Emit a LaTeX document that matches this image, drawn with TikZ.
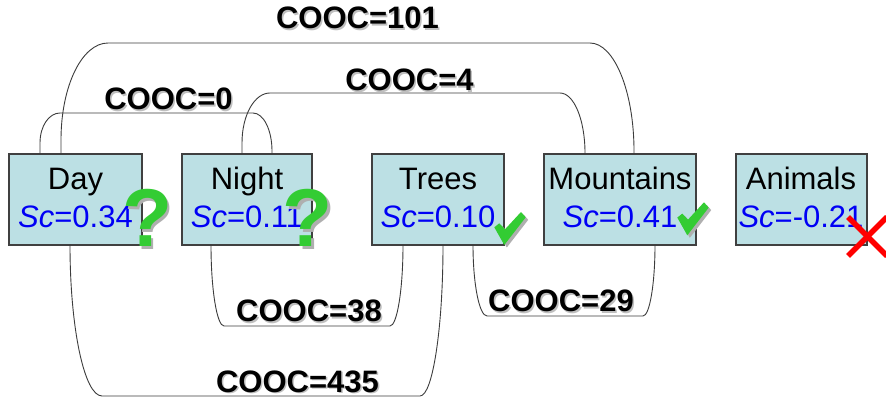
\documentclass[tikz,border=0pt]{standalone}
\usepackage{fontspec}
\setmainfont{Liberation Sans}
\usetikzlibrary{calc}

\definecolor{boxfill}{RGB}{188,224,228}
\definecolor{boxline}{RGB}{64,64,64}
\definecolor{linkgray}{RGB}{60,60,60}
\definecolor{scoreblue}{RGB}{0,0,245}
\definecolor{okgreen}{RGB}{51,204,51}
\definecolor{shadowgray}{RGB}{175,175,175}
\definecolor{badred}{RGB}{255,0,0}

\tikzset{
  concept/.style={draw=boxline, line width=1.3pt, fill=boxfill, inner sep=0pt, outer sep=0pt},
  word/.style={anchor=base, inner sep=0pt, font=\fontsize{31}{36}\selectfont},
  score/.style={word, text=scoreblue},
  link/.style={draw=linkgray, line width=0.9pt},
  cooc/.style={anchor=base, inner sep=0pt, font=\bfseries\fontsize{31}{36}\selectfont},
  coocshadow/.style={cooc, text=shadowgray!80},
  query/.style={anchor=base, inner sep=0pt, font=\bfseries\fontsize{82}{82}\selectfont, text=okgreen},
  queryshadow/.style={query, text=shadowgray},
  tick/.pic={
    \begin{scope}[shift={(2.5,2.5)}]
      \fill[shadowgray] (-10,-17.7) -- (-5,-21.7) -- (0.7,-15.7) -- (16.7,-33) -- (21.4,-27.7) -- (0,0) -- cycle;
    \end{scope}
    \fill[okgreen] (-10,-17.7) -- (-5,-21.7) -- (0.7,-15.7) -- (16.7,-33) -- (21.4,-27.7) -- (0,0) -- cycle;
  }
}

\begin{document}
\begin{tikzpicture}[x=1pt,y=-1pt]
  \fill[white] (0,0) rectangle (886,403);
  \useasboundingbox (0,0) rectangle (886,403);

  % concept boxes
  \node[concept, minimum width=133pt, minimum height=91pt] (day) at (75.5,199.5) {};
  \node[concept, minimum width=130pt, minimum height=91pt] (night) at (247,199.5) {};
  \node[concept, minimum width=132pt, minimum height=91pt] (trees) at (438,199.5) {};
  \node[concept, minimum width=152pt, minimum height=91pt] (mountains) at (620,199.5) {};
  \node[concept, minimum width=131pt, minimum height=91pt] (animals) at (801.5,199.5) {};

  % names and scores
  \node[word] (day-t) at (75.5,190) {Day};
  \node[score] (day-s) at (75.5,228) {\textit{Sc}=0.34};
  \node[word] (night-t) at (247,190) {Night};
  \node[score] (night-s) at (247,228) {\textit{Sc}=0.11};
  \node[word] (trees-t) at (438,190) {Trees};
  \node[score] (trees-s) at (438,228) {\textit{Sc}=0.10};
  \node[word] (mountains-t) at (620,190) {Mountains};
  \node[score] (mountains-s) at (620,228) {\textit{Sc}=0.41};
  \node[word] (animals-t) at (801,190) {Animals};
  \node[score] (animals-s) at (801,228) {\textit{Sc}=-0.21};

  % co-occurrence links above the boxes
  \draw[link] ($(day.north west)+(31,0)$) -- (40,143) .. controls (40,126) and (49,113) .. (60,113)
     -- (253,113) .. controls (263.5,113) and (272,130) .. (272,151) -- ($(night.north west)+(90,0)$);
  \draw[link] ($(day.north west)+(52,0)$) -- (61,140) .. controls (61,86) and (82,43) .. (108,43)
     -- (590,43) .. controls (614,43) and (634,91) .. (634,151) -- ($(mountains.north west)+(90,0)$);
  \draw[link] ($(night.north west)+(60,0)$) -- (242,143) .. controls (242,115) and (254.5,93) .. (270,93)
     -- (560,93) .. controls (574,93) and (585,120) .. (585,153) -- ($(mountains.north west)+(41,0)$);

  % co-occurrence links below the boxes
  \draw[link] ($(night.south west)+(29,0)$) .. controls (211,290) and (217,326) .. (224,326)
     -- (390,326) .. controls (397,326) and (403,290) .. ($(trees.south west)+(31,0)$);
  \draw[link] ($(day.south west)+(61,0)$) .. controls (70,328) and (84.3,396) .. (102,396)
     -- (420,396) .. controls (432.7,396) and (443,328) .. ($(trees.south west)+(71,0)$);
  \draw[link] ($(trees.south west)+(101,0)$) .. controls (473,284) and (479.3,316) .. (487,316)
     -- (643,316) .. controls (649.6,316) and (655,284) .. ($(mountains.south west)+(111,0)$);

  % link labels
  \node[coocshadow] (c101-sh) at (359,30.3) {COOC=101};
  \node[cooc] (c101) at (357.5,29) {COOC=101};
  \node[coocshadow] (c0-sh) at (170,111.3) {COOC=0};
  \node[cooc] (c0) at (168.5,110) {COOC=0};
  \node[coocshadow] (c4-sh) at (411,92.3) {COOC=4};
  \node[cooc] (c4) at (409.5,91) {COOC=4};
  \node[coocshadow] (c38-sh) at (310.5,323.3) {COOC=38};
  \node[cooc] (c38) at (309,322) {COOC=38};
  \node[coocshadow] (c435-sh) at (299,393.3) {COOC=435};
  \node[cooc] (c435) at (297.5,392) {COOC=435};
  \node[coocshadow] (c29-sh) at (562.5,313.3) {COOC=29};
  \node[cooc] (c29) at (561,312) {COOC=29};

  % verdict marks
  \node[queryshadow] (day-q-sh) at (150,249.5) {?};
  \node[query] (day-q) at (147.5,247) {?};
  \node[queryshadow] (night-q-sh) at (310.5,249.5) {?};
  \node[query] (night-q) at (308,247) {?};
  \pic at (504.3,245) {tick};
  \pic at (687.3,235.3) {tick};
  \draw[badred, line width=5.5pt] (848,217) -- (887,256);
  \draw[badred, line width=5.5pt] (887,217) -- (848,256);
\end{tikzpicture}
\end{document}
